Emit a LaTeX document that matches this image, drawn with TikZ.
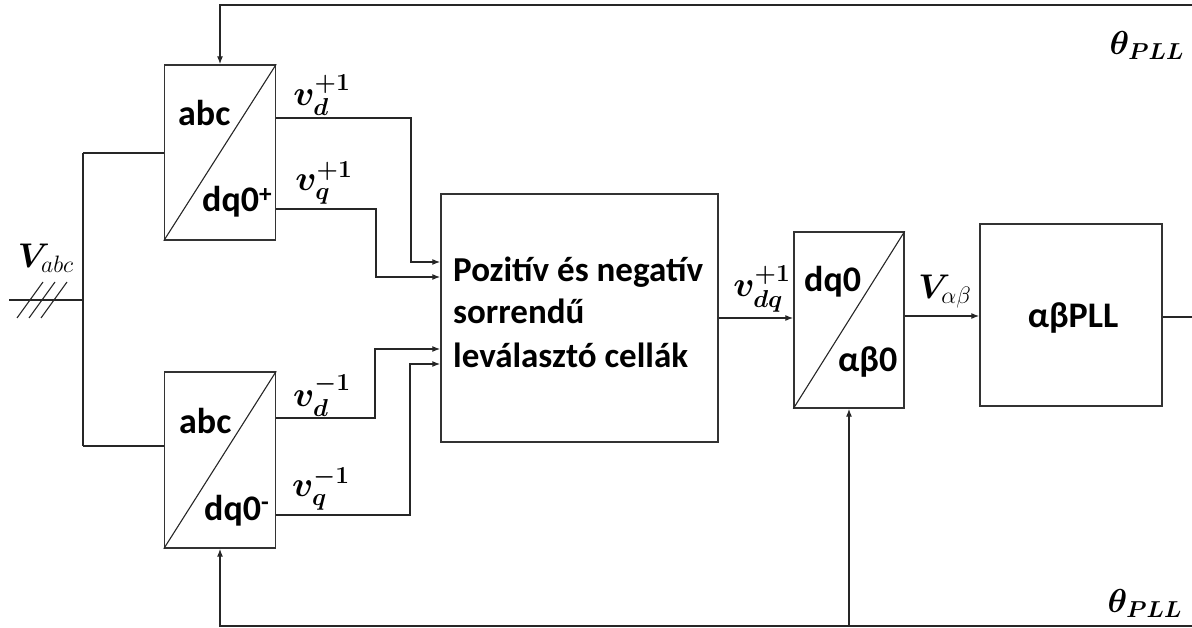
\documentclass[tikz,border=0pt]{standalone}
\usepackage{amsmath,bm}
\usepackage[no-math]{fontspec}
\setmainfont{Carlito}
\usetikzlibrary{arrows.meta}
\newcommand{\biglab}[2][1.7]{\scalebox{#1}{$#2$}}
\tikzset{
  blk/.style n args={2}{draw=black!80, line width=1.4pt, rectangle, inner sep=0pt, minimum width=#1, minimum height=#2},
  wire/.style={draw=black!85, line width=1.3pt},
  arr/.style={wire, -{Latex[length=8pt,width=6pt]}},
  btxt/.style={font=\fontsize{36}{42}\selectfont\bfseries, inner sep=0pt, anchor=base west},
  mtxt/.style={font=\fontsize{35}{42}\selectfont\bfseries, inner sep=0pt, anchor=base west},
  mlab/.style={font=\fontsize{20.74}{25}\selectfont, inner sep=0pt},
}
\begin{document}
\begin{tikzpicture}[x=1pt,y=-1pt]
\useasboundingbox (0,0) rectangle (1192,628);
% blocks
\node[blk={111pt}{175pt}] (T1) at (220,152.5) {};
\node[blk={111pt}{176pt}] (T2) at (220,460) {};
\node[blk={277pt}{248pt}] (M) at (579.5,318) {};
\node[blk={110pt}{176pt}] (D) at (849,320) {};
\node[blk={182pt}{182pt}] (P) at (1071,315) {};
\draw[wire, line width=1.1pt] (T1.south west) -- (T1.north east);
\draw[wire, line width=1.1pt] (T2.south west) -- (T2.north east);
\draw[wire, line width=1.1pt] (D.south west) -- (D.north east);
% block texts
\node[btxt] (t1a) at (178,126) {abc};
\node[btxt] (t1b) at (202,212) {dq0\textsuperscript{+}};
\node[btxt] (t2a) at (179,433) {abc};
\node[btxt] (t2b) at (204,520) {dq0\textsuperscript{-}};
\node[btxt] (da) at (804,292) {dq0};
\node[btxt] (db) at (838,372) {αβ0};
\node[btxt, anchor=base] (pt) at (1073,328) {αβPLL};
\node[mtxt] (m1) at (453,282) {Pozitív és negatív};
\node[mtxt] (m2) at (453,324) {sorrendű};
\node[mtxt] (m3) at (453,367) {leválasztó cellák};
% input V_abc
\coordinate (in) at (9,300);
\coordinate (j0) at (83,300);
\coordinate (j1) at (83,153);
\coordinate (j2) at (83,446);
\draw[wire] (in) -- (j0);
\draw[wire] (j1) -- (j2);
\draw[wire] (j1) -- (j1 -| T1.west);
\draw[wire] (j2) -- (j2 -| T2.west);
\draw[wire, line width=1.1pt] (17,318) -- (43,282);
\draw[wire, line width=1.1pt] (29,318) -- (55,282);
\draw[wire, line width=1.1pt] (41,318) -- (67,282);
\node[mlab] (lvabc) at (46,258) {\biglab[1.65]{\bm{V}_{abc}}};
% transformations to middle block
\coordinate (a1) at (411,118); \coordinate (a2) at (411,262);
\coordinate (b1) at (376,209); \coordinate (b2) at (376,277);
\coordinate (c1) at (375,418); \coordinate (c2) at (375,349);
\coordinate (e1) at (410,515); \coordinate (e2) at (410,364);
\draw[arr] (a1 -| T1.east) -- (a1) -- (a2) -- (a2 -| M.west);
\draw[arr] (b1 -| T1.east) -- (b1) -- (b2) -- (b2 -| M.west);
\draw[arr] (c1 -| T2.east) -- (c1) -- (c2) -- (c2 -| M.west);
\draw[arr] (e1 -| T2.east) -- (e1) -- (e2) -- (e2 -| M.west);
\node[mlab] (lvdp) at (322,95) {\biglab{\bm{v}_{\bm{d}}^{\bm{+1}}}};
\node[mlab] (lvqp) at (324,183) {\biglab{\bm{v}_{\bm{q}}^{\bm{+1}}}};
\node[mlab] (lvdm) at (322,396) {\biglab{\bm{v}_{\bm{d}}^{\bm{-1}}}};
\node[mlab] (lvqm) at (321,489) {\biglab{\bm{v}_{\bm{q}}^{\bm{-1}}}};
% middle to D to P
\draw[arr] (M.east |- 0,318) -- (D.west |- 0,318);
\node[mlab] (lvdq) at (762,289) {\biglab{\bm{v}_{\bm{dq}}^{\bm{+1}}}};
\draw[arr] (D.east |- 0,316) -- (P.west |- 0,316);
\node[mlab] (lvab) at (945,292) {\biglab[1.65]{\bm{V}_{\alpha\beta}}};
% feedback
\coordinate (po) at (1192,317);
\draw[wire] (P.east |- po) -- (po);
\coordinate (rt) at (1192,5);
\coordinate (rb) at (1192,626);
\draw[arr] (rt) -- (rt -| T1.north) -- (T1.north);
\draw[arr] (rb) -- (rb -| T2.south) -- (T2.south);
\draw[arr] (rb -| D.south) -- (D.south);
\node[mlab] (th1) at (1147,45) {\biglab[1.6]{\bm{\theta}_{\bm{PLL}}}};
\node[mlab] (th2) at (1145,603) {\biglab[1.6]{\bm{\theta}_{\bm{PLL}}}};
\end{tikzpicture}
\end{document}
